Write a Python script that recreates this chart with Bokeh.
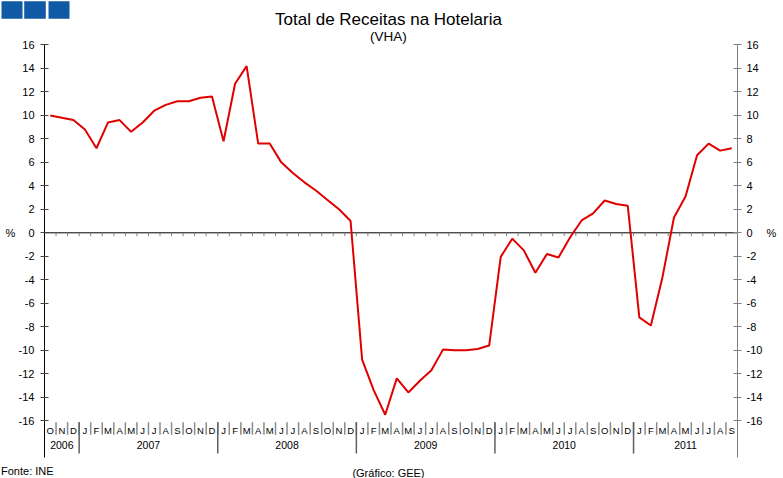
from bokeh.plotting import figure
from bokeh.models import Range1d, LinearAxis, FixedTicker, Label, BoxAnnotation, Span, ColumnDataSource
from bokeh.core.properties import value
from bokeh.embed import file_html
from bokeh.resources import INLINE

# ---------------- data ----------------
month_letters = (["O", "N", "D"]
                 + ["J", "F", "M", "A", "M", "J", "J", "A", "S", "O", "N", "D"] * 4
                 + ["J", "F", "M", "A", "M", "J", "J", "A", "S"])
years = ["2006", "2007", "2008", "2009", "2010", "2011"]
months_per_year = [3, 12, 12, 12, 12, 9]
vha = [10.0, 9.8, 9.6,
       8.8, 7.2, 9.4, 9.6, 8.6, 9.4, 10.4, 10.9, 11.2, 11.2, 11.5, 11.6,
       7.8, 12.7, 14.2, 7.6, 7.6, 6.0, 5.1, 4.3, 3.6, 2.8, 2.0, 1.0,
       -10.8, -13.4, -15.5, -12.4, -13.6, -12.6, -11.7, -9.95, -10.0, -10.0, -9.9, -9.6,
       -2.05, -0.5, -1.5, -3.4, -1.8, -2.1, -0.4, 1.05, 1.65, 2.75, 2.45, 2.3,
       -7.2, -7.9, -3.8, 1.3, 3.1, 6.6, 7.6, 7.0, 7.2]
y_ticks = list(range(-16, 17, 2))

FONT = "Liberation Sans"
RED = "#e00000"
BLUE = "#105aa5"

n = len(vha)
xs = [i + 0.5 for i in range(n)]

p = figure(width=783, height=478, x_range=Range1d(-3.810, 63.983), y_range=Range1d(-20.928, 19.787),
           output_backend="svg", toolbar_location=None,
           x_axis_location=None, y_axis_location=None,
           min_border_left=0, min_border_right=0, min_border_top=0, min_border_bottom=0)
p.min_border = 0
p.outline_line_color = None
p.xgrid.visible = False
p.ygrid.visible = False
p.background_fill_color = "white"
p.border_fill_color = "white"

AX_BOTTOM = -19.14
overrides = {t: str(t) for t in y_ticks}
left = LinearAxis(fixed_location=0, bounds=(AX_BOTTOM, 16),
                  ticker=FixedTicker(ticks=y_ticks), major_label_overrides=overrides,
                  axis_line_color="black", axis_line_width=1,
                  major_tick_in=4, major_tick_out=4, major_tick_line_color="#444444",
                  minor_tick_line_color=None, major_label_standoff=6,
                  major_label_text_font=FONT, major_label_text_font_size="11px",
                  major_label_text_color="black")
p.add_layout(left, "left")
right = LinearAxis(fixed_location=n, bounds=(AX_BOTTOM, 16),
                   ticker=FixedTicker(ticks=y_ticks), major_label_overrides=overrides,
                   axis_line_color="#808080", axis_line_width=1,
                   major_tick_in=4, major_tick_out=4, major_tick_line_color="#808080",
                   minor_tick_line_color=None, major_label_standoff=5,
                   major_label_text_font=FONT, major_label_text_font_size="11px",
                   major_label_text_color="black")
p.add_layout(right, "right")

# zero line with small month ticks
bounds = list(range(1, n))
p.segment(x0=[0], y0=[0], x1=[n], y1=[0], line_color="black", line_width=1)
p.segment(x0=bounds, y0=[0] * len(bounds), x1=bounds, y1=[-0.28] * len(bounds),
          line_color="#808080", line_width=1)

# category axis: month separators, year separators, labels
p.segment(x0=bounds, y0=[-16.13] * len(bounds), x1=bounds, y1=[-17.21] * len(bounds),
          line_color="#8a8a8a", line_width=1.5)
year_bounds = []
acc = 0
year_centers = []
for cnt in months_per_year:
    year_centers.append(acc + cnt / 2)
    acc += cnt
    if acc < n:
        year_bounds.append(acc)
p.segment(x0=year_bounds, y0=[-16.13] * len(year_bounds), x1=year_bounds,
          y1=[-18.8] * len(year_bounds), line_color="#606060", line_width=1.5)

p.text(x=xs, y=[-16.8] * n, text=month_letters, text_align="center", text_baseline="middle",
       text_font=value(FONT), text_font_size="9.5px", text_color="black")
p.text(x=year_centers, y=[-18.1] * len(years), text=years, text_align="center",
       text_baseline="middle", text_font=value(FONT), text_font_size="10.5px", text_color="black")

# series
src = ColumnDataSource(dict(x=xs, y=vha))
p.line("x", "y", source=src, line_color=RED, line_width=2)

# titles and notes
def lab(x, y, text, size, align="left", baseline="alphabetic"):
    p.add_layout(Label(x=x, y=y, text=text, text_font=FONT, text_font_size=size,
                       text_align=align, text_baseline=baseline, text_color="black"))

lab(29.78, 18.13, "Total de Receitas na Hotelaria", "17px", "center")
lab(29.78, 16.72, "(VHA)", "13.5px", "center")
lab(-3.377, 0, "%", "11px", "left", "middle")
lab(62.51, 0, "%", "11px", "left", "middle")
lab(-3.766, -20.25, "Fonte: INE", "11px", "left")
lab(29.78, -20.50, "(Gráfico: GEE)", "11px", "center")

# decorative blue squares top-left
for l, r in [(-3.723, -1.905), (-1.758, 0.113), (0.346, 2.165)]:
    p.add_layout(BoxAnnotation(left=l, right=r, top=19.73, bottom=18.23,
                               fill_color=BLUE, fill_alpha=1.0, line_color=None))

open("out.html", "w").write(file_html(p, INLINE))
